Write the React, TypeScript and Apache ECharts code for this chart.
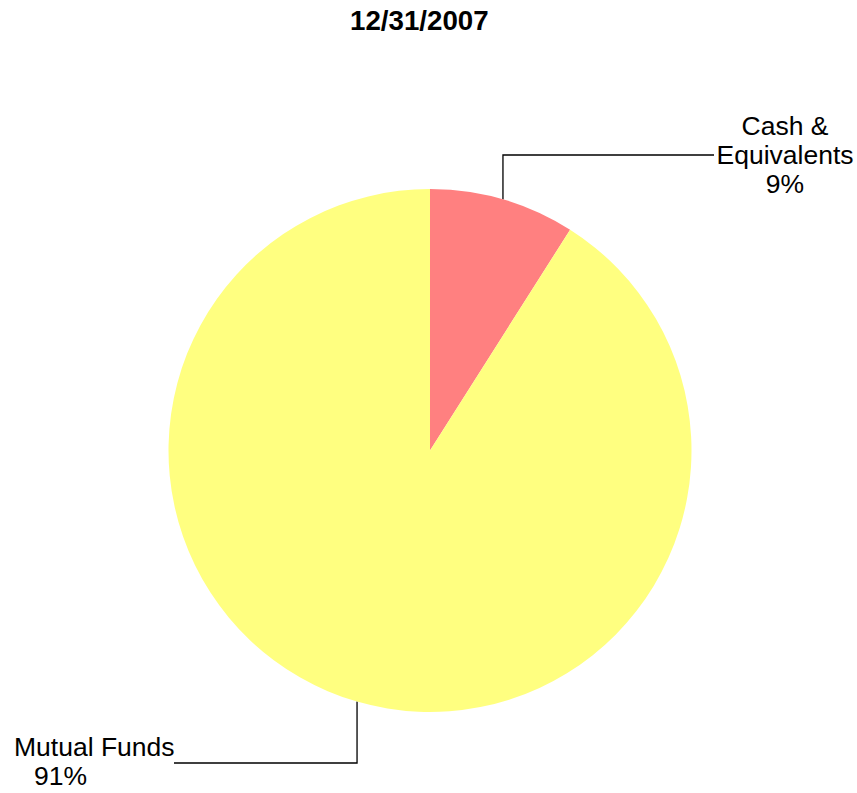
import React, { useEffect, useRef } from "react";
import * as echarts from "echarts";

const titleText = "12/31/2007";
const categories = ["Cash &\nEquivalents", "Mutual Funds"];
const percents = [9, 91];
const colors = ["#FF8080", "#FFFF80"];

const FONT = "Liberation Sans, Arial, sans-serif";

export default function App() {
  const ref = useRef<HTMLDivElement>(null);
  useEffect(() => {
    const chart = echarts.init(ref.current!, null, { renderer: "svg" });
    const data = categories.map((c, i) => ({
      name: c,
      value: percents[i],
      itemStyle: { color: colors[i] },
    }));
    chart.setOption({
      animation: false,
      backgroundColor: "#ffffff",
      title: {
        text: titleText,
        left: 345,
        top: 1,
        padding: [5, 5],
        textStyle: {
          fontFamily: FONT,
          fontWeight: "bold",
          fontSize: 27.7,
          color: "#000",
        },
      },
      series: [
        {
          type: "pie",
          center: [430, 450.5],
          radius: [0, 261.5],
          startAngle: 90,
          clockwise: true,
          data,
          label: {
            show: true,
            position: "outside",
            fontFamily: FONT,
            fontSize: 26.5,
            lineHeight: 29,
            color: "#000",
            formatter: (p: any) =>
              p.dataIndex === 0
                ? `${p.name}\n${p.value}%`
                : `{a|${p.name}}\n{b|${p.value}%}`,
            rich: {
              a: { fontFamily: FONT, fontSize: 26.5, lineHeight: 29, color: "#000" },
              b: {
                fontFamily: FONT,
                fontSize: 26.5,
                lineHeight: 29,
                color: "#000",
                padding: [0, 0, 0, 20],
              },
            },
          },
          labelLine: {
            show: true,
            lineStyle: { color: "#000", width: 1.3 },
          },
          labelLayout: (params: any) => {
            const p0 = params.labelLinePoints
              ? params.labelLinePoints[0]
              : [0, 0];
            if (params.dataIndex === 0) {
              return {
                x: 785,
                y: 155,
                align: "center",
                verticalAlign: "middle",
                labelLinePoints: [p0, [p0[0], 155], [714, 155]],
              };
            }
            return {
              x: 14,
              y: 761,
              align: "left",
              verticalAlign: "middle",
              labelLinePoints: [p0, [p0[0], 763], [174, 763]],
            };
          },
        },
      ],
    });
    return () => chart.dispose();
  }, []);
  return (
    <div
      ref={ref}
      style={{ position: "fixed", left: 0, top: 0, width: 857, height: 793 }}
    />
  );
}
